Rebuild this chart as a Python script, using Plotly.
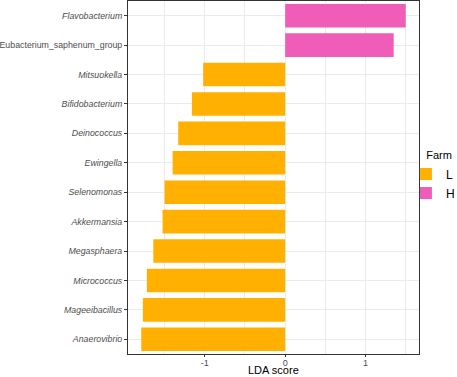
import plotly.graph_objects as go

genera = ["Flavobacterium", "Eubacterium_saphenum_group", "Mitsuokella", "Bifidobacterium",
          "Deinococcus", "Ewingella", "Selenomonas", "Akkermansia", "Megasphaera",
          "Micrococcus", "Mageeibacillus", "Anaerovibrio"]
lda = [1.50, 1.35, -1.02, -1.16, -1.33, -1.40, -1.50, -1.525, -1.64, -1.72, -1.77, -1.79]
farm = ["H", "H", "L", "L", "L", "L", "L", "L", "L", "L", "L", "L"]
italic = [True, False, True, True, True, True, True, True, True, True, True, True]
x_ticks = [-1, 0, 1]
x_tick_labels = ["-1", "0", "1"]
x_title = "LDA score"

colors = {"L": "#FFB000", "H": "#F05DB9"}

fig = go.Figure()
for grp in ["L", "H"]:
    ys = [g for g, f in zip(genera, farm) if f == grp]
    xs = [v for v, f in zip(lda, farm) if f == grp]
    fig.add_trace(go.Bar(y=ys, x=xs, orientation="h", name=grp,
                         marker=dict(color=colors[grp], line=dict(width=0))))

ticktext = [f"<i>{g}</i>" if it else g for g, it in zip(genera, italic)]

fig.update_layout(
    width=457, height=377,
    margin=dict(l=128, r=38, t=1, b=23, autoexpand=False),
    paper_bgcolor="white", plot_bgcolor="white",
    font=dict(family="Liberation Sans, Arial, sans-serif"),
    barmode="relative", bargap=0.2,
    legend=dict(title=dict(text="\u00a0\u00a0\u00a0\u00a0\u00a0\u00a0Farm", font=dict(size=11, color="black")),
                x=0.955, xanchor="left", y=0.5915, yanchor="top",
                itemwidth=30, bgcolor="rgba(0,0,0,0)",
                font=dict(size=12, color="black"), traceorder="normal"),
    xaxis=dict(range=[-1.955, 1.665], tickvals=x_ticks, ticktext=x_tick_labels,
               showgrid=True, gridcolor="#EBEBEB", gridwidth=1, zeroline=False,
               minor=dict(dtick=0.5, tick0=0, showgrid=True, gridcolor="#EBEBEB", gridwidth=0.5),
               ticks="outside", ticklen=2, tickcolor="#333333", ticklabelstandoff=-2,
               tickfont=dict(size=9, color="#4D4D4D"),
               showline=True, linecolor="#333333", mirror=True, linewidth=1),
    yaxis=dict(categoryorder="array", categoryarray=genera, autorange="reversed",
               tickvals=genera, ticktext=ticktext,
               showgrid=True, gridcolor="#EBEBEB", gridwidth=1,
               ticks="outside", ticklen=3, tickcolor="#333333",
               tickfont=dict(size=8.8, color="#4D4D4D"),
               showline=True, linecolor="#333333", mirror=True, linewidth=1),
    annotations=[dict(text=x_title, xref="paper", yref="paper", x=0.5, y=0,
                      xanchor="center", yanchor="top", yshift=-9, showarrow=False,
                      borderpad=0, font=dict(size=11, color="black"))],
)

fig.write_html("out.html", config={"displayModeBar": False},
               post_script="document.body.style.margin='0';document.body.style.overflow='hidden';")
